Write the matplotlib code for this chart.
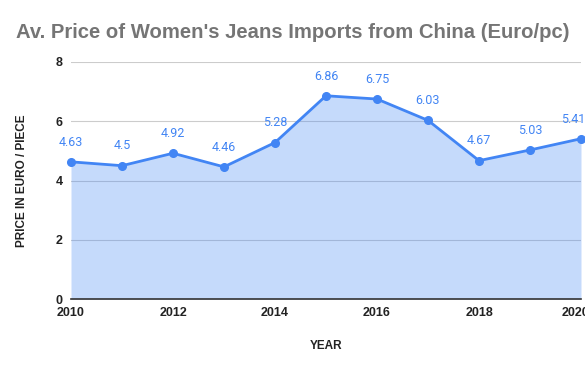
import numpy as np
import matplotlib.pyplot as plt
import matplotlib.transforms as mtransforms

years = [2010, 2011, 2012, 2013, 2014, 2015, 2016, 2017, 2018, 2019, 2020]
prices = [4.63, 4.5, 4.92, 4.46, 5.28, 6.86, 6.75, 6.03, 4.67, 5.03, 5.41]
price_labels = ["4.63", "4.5", "4.92", "4.46", "5.28", "6.86", "6.75", "6.03", "4.67", "5.03", "5.41"]
x_ticks = [2010, 2012, 2014, 2016, 2018, 2020]
y_ticks = [0, 2, 4, 6, 8]

blue = '#4285f4'
plt.rcParams['font.family'] = ['Liberation Sans', 'DejaVu Sans']

fig = plt.figure(figsize=(5.85, 3.71), dpi=100)
ax = fig.add_axes([71 / 585, 72 / 371, 510 / 585, 237 / 371])

ax.fill_between(years, prices, 0, color=blue, alpha=0.3, lw=0, zorder=2)
ax.plot(years, prices, color=blue, lw=2, marker='o', ms=5.5, zorder=4, clip_on=False)

for i, (x, y) in enumerate(zip(years, prices)):
    ax.plot([x, x], [y, y + 0.4], color='white', lw=0.8, zorder=3, clip_on=False)
    ha = 'right' if i == len(years) - 1 else 'center'
    xo = 3 if ha == 'right' else 0
    ax.annotate(price_labels[i], (x, y), xytext=(xo, 9.5), textcoords='offset points',
                ha=ha, va='bottom', color=blue, fontsize=9, family=['Roboto', 'DejaVu Sans'],
                annotation_clip=False)

ax.set_xlim(2010, 2020)
ax.set_ylim(0, 8)
ax.set_xticks(x_ticks)
ax.set_yticks(y_ticks)
ax.set_xticklabels([str(t) for t in x_ticks], fontsize=9, fontweight='bold', color='#222222')
ax.set_yticklabels([str(t) for t in y_ticks], fontsize=9, fontweight='bold', color='#222222')
ax.tick_params(axis='x', length=0, pad=6)
ax.tick_params(axis='y', length=0, pad=6)
# nudge the last year label inwards a little, like the original
last = ax.get_xticklabels()[-1]
last.set_transform(last.get_transform() + mtransforms.ScaledTranslation(-5 / 100, 0, fig.dpi_scale_trans))
ax.grid(axis='y', color='#cccccc', lw=0.8, zorder=1)
ax.set_axisbelow(True)
for s in ['top', 'right', 'left']:
    ax.spines[s].set_visible(False)
ax.spines['bottom'].set_color('#333333')
ax.spines['bottom'].set_linewidth(1.2)
ax.spines['bottom'].set_zorder(5)

ax.set_xlabel('YEAR', fontsize=8.5, fontweight='bold', color='#222222', labelpad=15)
ax.set_ylabel('PRICE IN EURO / PIECE', fontsize=8.5, fontweight='bold', color='#222222', labelpad=20)

fig.text(0.5, 1 - 33 / 371, "Av. Price of Women's Jeans Imports from China (Euro/pc)",
         ha='center', va='center', fontsize=14.6, fontweight='bold', color='#757575')

fig.savefig('out.png', dpi=100)
